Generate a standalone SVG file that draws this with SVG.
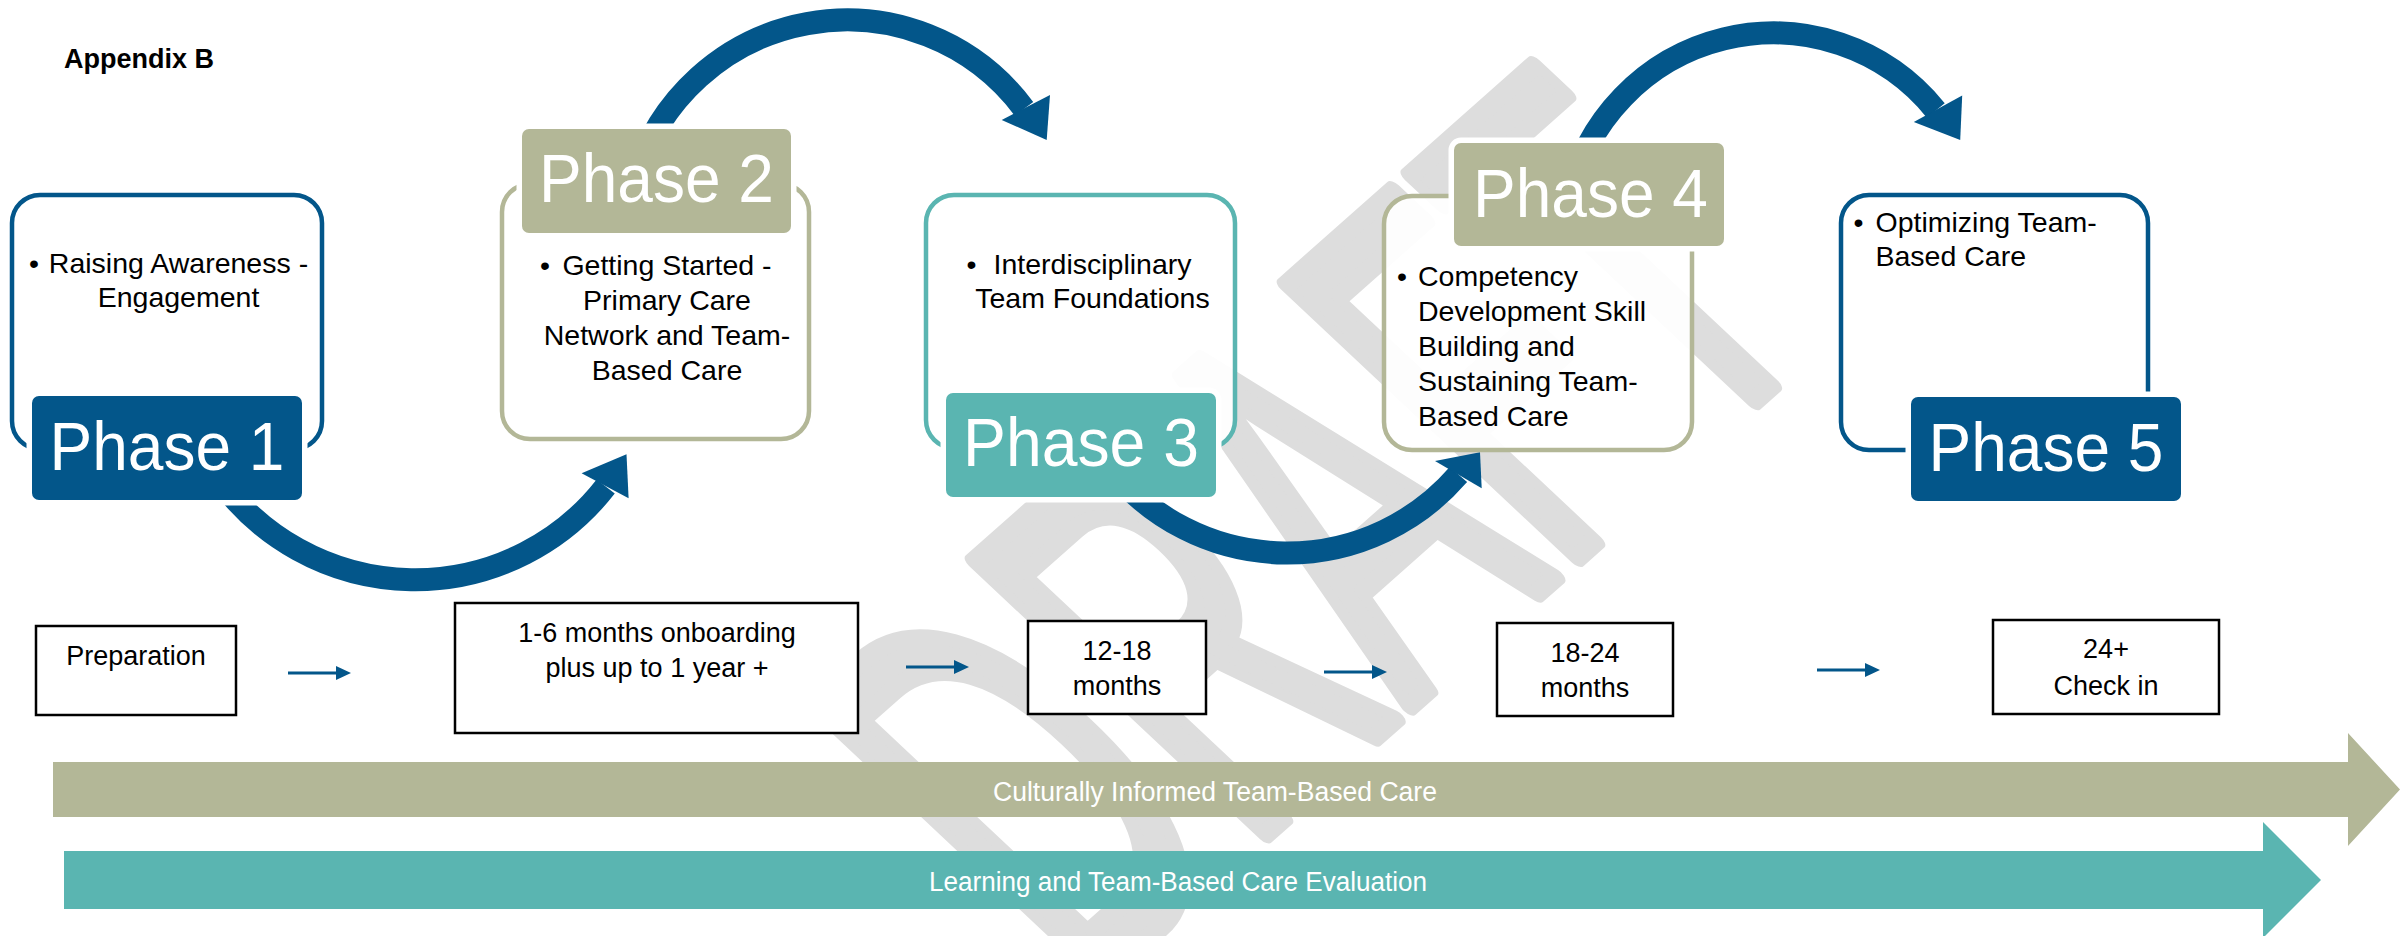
<svg xmlns="http://www.w3.org/2000/svg" width="2400" height="936" viewBox="0 0 2400 936">
<defs>
<style>
text{font-family:'Liberation Sans',Arial,sans-serif}
.b{font-size:28.5px;fill:#000}
.m{text-anchor:middle}
.ph{font-size:68px;fill:#fff;text-anchor:middle}
.ol{fill:#fff;fill-opacity:.92;stroke-width:4.5}
.lab{stroke:#fff;stroke-width:11;paint-order:stroke}
.tb{fill:#fff;stroke:#000;stroke-width:2.5}
.tt{font-size:27px;fill:#000;text-anchor:middle}
.arc{fill:none;stroke:#03568A;stroke-width:23}
.hd{fill:#03568A}
.sm{stroke:#03568A;stroke-width:3;fill:none}
.bt{font-size:27px;fill:#fff;text-anchor:middle}
</style>
<marker id="ah" markerUnits="userSpaceOnUse" markerWidth="16" markerHeight="14" refX="1" refY="7" orient="auto"><path d="M0,0L15,7L0,14z" fill="#03568A"/></marker>
</defs>
<rect width="2400" height="936" fill="#fff"/>
<text id="watermark" transform="matrix(2.246 -1.99 4.23 3.97 1083.4 995.7)" font-size="100" fill="#DDDDDD" stroke="#DDDDDD" stroke-width="3.5" stroke-linejoin="round">DRAFT</text>
<text x="64" y="68" font-size="27" font-weight="bold" fill="#000">Appendix B</text>
<g id="connectors">
<path class="arc" d="M219.4,480 A241.7,241.7 0 0 0 605.7,486.5"/>
<polygon class="hd" points="581.6,473.2 626.5,454.3 628.6,498.2"/>
<path class="arc" d="M634.7,180 A220.8,220.8 0 0 1 1024,108.8"/>
<polygon class="hd" points="1001.7,120 1050,95 1046.7,140"/>
<path class="arc" d="M1111.8,470 A226.5,226.5 0 0 0 1458.4,474.6"/>
<polygon class="hd" points="1435,461 1480,452.3 1481.7,488.3"/>
<path class="arc" d="M1568.8,200 A208.9,208.9 0 0 1 1935.8,110.4"/>
<polygon class="hd" points="1913.8,122.1 1962.2,95.4 1960.2,140"/>
<path class="sm" d="M288,673H337" marker-end="url(#ah)"/>
<path class="sm" d="M906,667H955" marker-end="url(#ah)"/>
<path class="sm" d="M1324,672H1373" marker-end="url(#ah)"/>
<path class="sm" d="M1817,670H1866" marker-end="url(#ah)"/>
</g>
<g id="phase1">
<rect class="ol" x="12" y="195" width="310" height="254" rx="28" stroke="#03568A"/>
<text class="b m" x="34" y="273">•</text>
<text class="b m" x="178.5" y="273">Raising Awareness -</text>
<text class="b m" x="178.5" y="307">Engagement</text>
<rect class="lab" x="32" y="396" width="270" height="104" rx="7" fill="#03568A"/>
<text class="ph" x="167" y="470" textLength="235" lengthAdjust="spacingAndGlyphs">Phase 1</text>
</g>
<g id="phase2">
<rect class="ol" x="502" y="184" width="307" height="255" rx="28" stroke="#B3B797"/>
<text class="b m" x="545" y="275">•</text>
<text class="b m" x="667" y="275">Getting Started -</text>
<text class="b m" x="667" y="310">Primary Care</text>
<text class="b m" x="667" y="345">Network and Team-</text>
<text class="b m" x="667" y="380">Based Care</text>
<rect class="lab" x="522" y="129" width="269" height="104" rx="7" fill="#B3B797"/>
<text class="ph" x="656.5" y="202" textLength="235" lengthAdjust="spacingAndGlyphs">Phase 2</text>
</g>
<g id="phase3">
<rect class="ol" x="926" y="195" width="309" height="253" rx="28" stroke="#5AB5B1"/>
<text class="b m" x="971.5" y="274">•</text>
<text class="b m" x="1092.5" y="274">Interdisciplinary</text>
<text class="b m" x="1092.5" y="308">Team Foundations</text>
<rect class="lab" x="946" y="393" width="270" height="104" rx="7" fill="#5AB5B1"/>
<text class="ph" x="1081" y="466" textLength="236" lengthAdjust="spacingAndGlyphs">Phase 3</text>
</g>
<g id="phase4">
<rect class="ol" x="1384" y="196" width="308" height="254" rx="28" stroke="#B3B797"/>
<text class="b m" x="1402" y="286">•</text>
<text class="b" x="1418" y="286">Competency</text>
<text class="b" x="1418" y="321">Development Skill</text>
<text class="b" x="1418" y="356">Building and</text>
<text class="b" x="1418" y="391">Sustaining Team-</text>
<text class="b" x="1418" y="426">Based Care</text>
<rect class="lab" x="1454" y="143" width="270" height="103" rx="7" fill="#B3B797"/>
<text class="ph" x="1590.5" y="217" textLength="235" lengthAdjust="spacingAndGlyphs">Phase 4</text>
</g>
<g id="phase5">
<rect class="ol" x="1841" y="195" width="307" height="255" rx="28" stroke="#03568A"/>
<text class="b m" x="1858.5" y="232">•</text>
<text class="b" x="1875.5" y="232">Optimizing Team-</text>
<text class="b" x="1875.5" y="266">Based Care</text>
<rect class="lab" x="1911" y="397" width="270" height="104" rx="7" fill="#03568A"/>
<text class="ph" x="2046" y="471" textLength="235" lengthAdjust="spacingAndGlyphs">Phase 5</text>
</g>
<g id="step-preparation">
<rect class="tb" x="36" y="626" width="200" height="89"/>
<text class="tt" x="136" y="665">Preparation</text>
</g>
<g id="step-onboarding">
<rect class="tb" x="455" y="603" width="403" height="130"/>
<text class="tt" x="657" y="642">1-6 months onboarding</text>
<text class="tt" x="657" y="677">plus up to 1 year +</text>
</g>
<g id="step-12-18">
<rect class="tb" x="1028" y="621" width="178" height="93"/>
<text class="tt" x="1117" y="660">12-18</text>
<text class="tt" x="1117" y="695">months</text>
</g>
<g id="step-18-24">
<rect class="tb" x="1497" y="623" width="176" height="93"/>
<text class="tt" x="1585" y="662">18-24</text>
<text class="tt" x="1585" y="697">months</text>
</g>
<g id="step-24">
<rect class="tb" x="1993" y="620" width="226" height="94"/>
<text class="tt" x="2106" y="658">24+</text>
<text class="tt" x="2106" y="695">Check in</text>
</g>
<g id="band-culture">
<polygon points="53,762 2348,762 2348,733 2400,789.5 2348,846 2348,817 53,817" fill="#B3B797"/>
<text class="bt" x="1215" y="801" textLength="444" lengthAdjust="spacingAndGlyphs">Culturally Informed Team-Based Care</text>
</g>
<g id="band-learning">
<polygon points="64,851 2263,851 2263,822 2321,880 2263,938 2263,909 64,909" fill="#5AB5B1"/>
<text class="bt" x="1178" y="891" textLength="498" lengthAdjust="spacingAndGlyphs">Learning and Team-Based Care Evaluation</text>
</g>
</svg>
